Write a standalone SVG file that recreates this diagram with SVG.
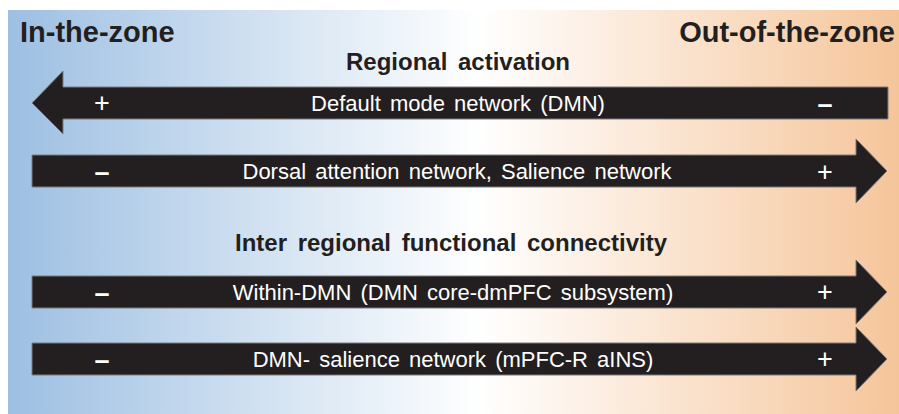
<svg xmlns="http://www.w3.org/2000/svg" width="899" height="414" viewBox="0 0 899 414">
  <defs>
    <linearGradient id="bg" x1="0" y1="0" x2="1" y2="0">
      <stop offset="0" stop-color="#9dbfe2"/>
      <stop offset="0.53" stop-color="#ffffff"/>
      <stop offset="1" stop-color="#f5c59a"/>
    </linearGradient>
    <style>
      .arrow { fill: #231f20; stroke: #7a7a7a; stroke-width: 1; }
      .head { font-family: "Liberation Sans", Arial, sans-serif; font-weight: bold; fill: #231f20; }
      .title { font-size: 29px; }
      .sub { font-size: 24px; word-spacing: 4px; }
      .lbl { font-family: "Liberation Sans", Arial, sans-serif; font-size: 22px; fill: #ffffff; text-anchor: middle; word-spacing: 3px; }
      .sign { font-family: "Liberation Sans", Arial, sans-serif; font-size: 27px; fill: #ffffff; text-anchor: middle; }
      .minus { font-weight: bold; }
    </style>
  </defs>
  <rect x="8" y="10" width="891" height="404" fill="url(#bg)"/>
  <g id="titles">
    <text class="head title" x="20" y="42">In-the-zone</text>
    <text class="head title" x="895" y="42" text-anchor="end">Out-of-the-zone</text>
    <text class="head sub" x="458" y="70" text-anchor="middle">Regional activation</text>
    <text class="head sub" x="451" y="251" text-anchor="middle">Inter regional functional connectivity</text>
  </g>
  <g id="dmn">
    <path class="arrow" d="M888 87 L63 87 L63 71 L32 103 L63 134 L63 119 L888 119 Z"/>
    <text class="lbl" x="458" y="111">Default mode network (DMN)</text>
    <text class="sign" x="102" y="112">+</text>
    <text class="sign minus" x="825" y="113">–</text>
  </g>
  <g id="dan-salience">
    <path class="arrow" d="M32 155 L856 155 L856 139 L887 171 L856 203 L856 187 L32 187 Z"/>
    <text class="lbl" x="457" y="179">Dorsal attention network, Salience network</text>
    <text class="sign minus" x="102" y="181">–</text>
    <text class="sign" x="825" y="181">+</text>
  </g>
  <g id="within-dmn">
    <path class="arrow" d="M32 276 L856 276 L856 260 L887 292 L856 324 L856 308 L32 308 Z"/>
    <text class="lbl" x="453" y="300">Within-DMN (DMN core-dmPFC subsystem)</text>
    <text class="sign minus" x="102" y="302">–</text>
    <text class="sign" x="825" y="301">+</text>
  </g>
  <g id="dmn-salience">
    <path class="arrow" d="M32 343 L856 343 L856 327 L887 359 L856 391 L856 375 L32 375 Z"/>
    <text class="lbl" x="453" y="367">DMN- salience network (mPFC-R aINS)</text>
    <text class="sign minus" x="102" y="369">–</text>
    <text class="sign" x="825" y="368">+</text>
  </g>
  <g id="connectors"/>
</svg>
